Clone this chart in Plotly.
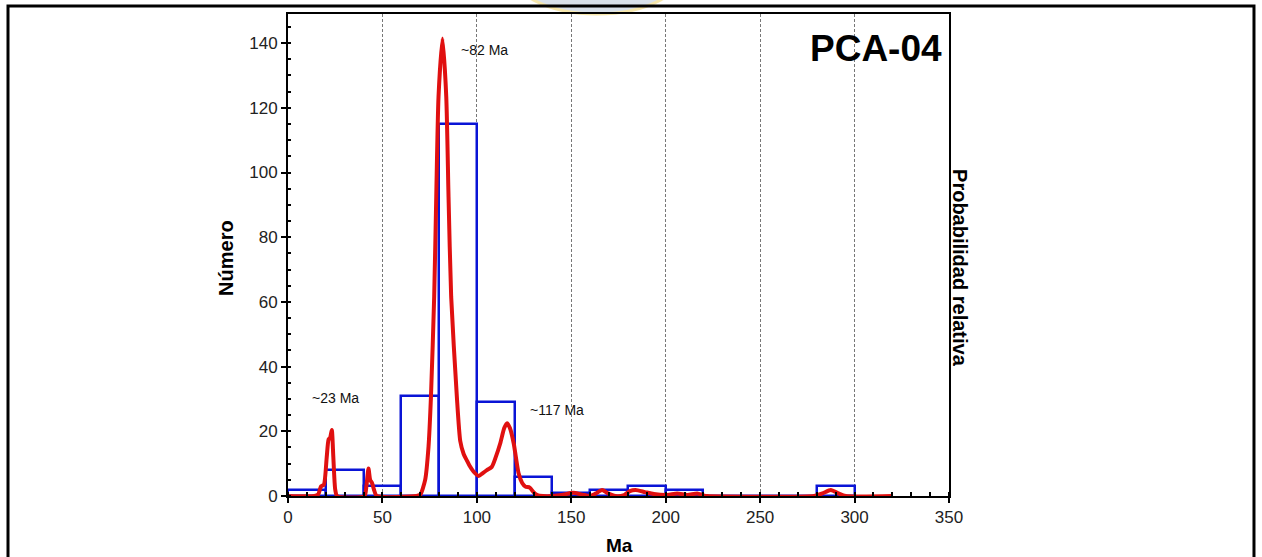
import plotly.graph_objects as go

# Histogram (20 Ma bins)
bin_centers = [10, 30, 50, 70, 90, 110, 130, 150, 170, 190, 210, 230, 250, 270, 290]
bin_counts = [2, 8, 3, 31, 115, 29, 6, 1, 2, 3, 2, 0, 0, 0, 3]

# Relative probability curve (in left-axis units)
pdp_age = [0, 14, 16, 17.5, 19, 20.5, 21.5, 22.3, 23.2, 24, 25, 26, 40.5, 41.5, 42.6, 43.5, 44.5, 45.5, 47,
           68, 70, 72.6, 74.4, 75.7, 77.4, 78.5, 79.7, 81.8, 83.8, 85, 86.4, 89.4, 91.2, 93, 94.7, 96, 98.3,
           101, 103, 105.3, 107.9, 110, 112.4, 114.5, 116, 117.5, 119.5, 122.1, 124, 125.7, 128, 130, 132, 135,
           140, 145, 151, 156, 160, 163, 166.3, 169.5, 173.4, 178, 181, 184, 189, 193.7, 200.8, 206.1, 211.4,
           216.7, 220, 222, 278.5, 283, 287.4, 291.5, 295.3, 320]
pdp_val = [0, 0, 0.5, 3, 3.5, 12, 17.5, 18, 20.4, 12, 2, 0, 0, 3, 8.5, 5, 4, 2, 0,
           0, 0.4, 4.9, 15.2, 30.7, 61.6, 92.5, 123.4, 141.4, 123.4, 92.5, 61.6, 30.7, 17, 13, 11, 9.5, 7.5,
           6.2, 7, 8, 9, 12, 16.3, 21, 22.5, 21, 16.3, 7, 4, 2.9, 2.6, 1.2, 0.3, 0,
           0, 0.3, 1.0, 0.4, 0, 0.8, 1.85, 0.8, 0, 0.3, 1.5, 1.85, 1.2, 0.6, 0.3, 0.8, 0.3,
           0.8, 0.2, 0, 0, 0.8, 1.85, 0.8, 0, 0]

peak_labels = ["~23 Ma", "~82 Ma", "~117 Ma"]
peak_label_x = [11.5, 90.5, 127]
peak_label_y = [30.3, 138, 26.6]

FONT = "Liberation Sans, Arial, sans-serif"

fig = go.Figure()
fig.add_trace(go.Bar(
    x=bin_centers, y=bin_counts, width=20,
    marker=dict(color="rgba(0,0,0,0)", line=dict(color="#0a14d6", width=2.5)),
    showlegend=False,
))
fig.add_trace(go.Scatter(
    x=pdp_age, y=pdp_val, mode="lines", yaxis="y2",
    line=dict(color="#e01010", width=4, shape="spline", smoothing=0.6),
    showlegend=False,
))

for t, x, y in zip(peak_labels, peak_label_x, peak_label_y):
    fig.add_annotation(x=x, y=y, text=t, showarrow=False, xanchor="left", yanchor="middle",
                       font=dict(size=14, color="#111", family=FONT))

fig.add_annotation(x=1, y=1, xref="paper", yref="paper", text="<b>PCA-04</b>", showarrow=False,
                   xanchor="right", yanchor="top", xshift=-5, yshift=-12,
                   font=dict(size=37, color="black", family=FONT))
fig.add_annotation(x=-0.0938, y=0.494, xref="paper", yref="paper", text="<b>Número</b>", showarrow=False,
                   xanchor="center", yanchor="middle",
                   textangle=-90, font=dict(size=20, color="black", family=FONT))
fig.add_annotation(x=1.0166, y=0.473, xref="paper", yref="paper", text="<b>Probabilidad relativa</b>",
                   xanchor="center", yanchor="middle",
                   showarrow=False, textangle=90, font=dict(size=20, color="black", family=FONT))
fig.add_annotation(x=0.5008, y=-0.102, xref="paper", yref="paper", text="<b>Ma</b>", showarrow=False,
                   xanchor="center", yanchor="middle",
                   font=dict(size=19, color="black", family=FONT))

# faint logo behind the frame top and outer frame
fig.add_shape(type="circle", xref="paper", yref="paper", x0=0.331, x1=0.604, y0=1.0, y1=1.2,
              fillcolor="#d9e1ea", line=dict(color="#f6e7ad", width=3), layer="below")
fig.add_shape(type="rect", xref="paper", yref="paper", x0=-0.4236, x1=1.4614, y0=-0.16, y1=1.0166,
              line=dict(color="black", width=3), fillcolor="rgba(0,0,0,0)")

fig.update_layout(
    width=1262, height=557,
    margin=dict(l=288, r=313, t=14, b=61),
    paper_bgcolor="white", plot_bgcolor="white",
    bargap=0,
    font=dict(family=FONT, size=17, color="#222"),
    xaxis=dict(range=[0, 350], tickvals=[0, 50, 100, 150, 200, 250, 300, 350],
               ticks="outside", ticklen=5, tickwidth=1.5, tickcolor="black",
               minor=dict(ticks="inside", dtick=10, ticklen=4, tickcolor="black", showgrid=False),
               showline=True, linecolor="black", linewidth=2, mirror=True,
               showgrid=True, gridcolor="#777", griddash="3px,2px", gridwidth=1,
               zeroline=False, tickfont=dict(size=17)),
    yaxis=dict(range=[0, 149], tickvals=[0, 20, 40, 60, 80, 100, 120, 140],
               ticks="outside", ticklen=5, tickwidth=1.5, tickcolor="black",
               minor=dict(ticks="inside", dtick=5, ticklen=3, tickcolor="black", showgrid=False),
               showline=True, linecolor="black", linewidth=2, mirror=True,
               showgrid=False, zeroline=False, tickfont=dict(size=17)),
    yaxis2=dict(range=[0, 149], overlaying="y", side="right", showticklabels=False,
                showgrid=False, zeroline=False, ticks=""),
)

fig.write_html("out.html", config={"displayModeBar": False},
               post_script="document.body.style.margin='0px';")
